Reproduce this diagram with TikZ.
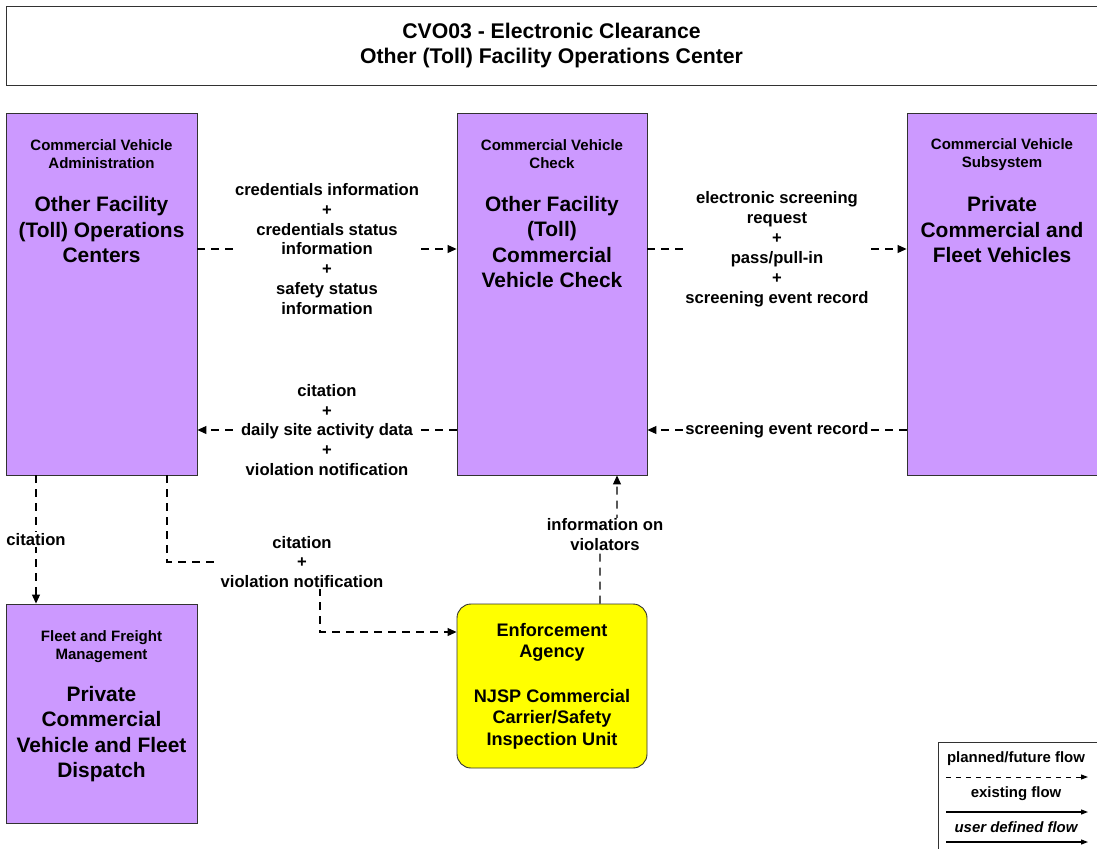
\documentclass[tikz,border=0pt]{standalone}
\usepackage{fontspec}
\setmainfont{Liberation Sans}
\usetikzlibrary{arrows.meta,calc}
\definecolor{boxpurple}{RGB}{204,153,255}
\definecolor{boxyellow}{RGB}{255,255,0}
\definecolor{edgegray}{RGB}{50,50,50}
\begin{document}
\begin{tikzpicture}[x=1bp,y=-1bp,
  box/.style={draw=edgegray,line width=0.9bp,fill=boxpurple,inner sep=0pt,minimum width=191bp},
  ybox/.style={draw=edgegray,line width=0.9bp,fill=boxyellow,inner sep=0pt,minimum width=190bp,minimum height=164bp,rounded corners=14bp},
  hdr/.style={align=center,inner sep=0pt,font=\fontsize{15.1}{18}\selectfont\bfseries},
  body/.style={align=center,inner sep=0pt,font=\fontsize{21}{25.5}\selectfont\bfseries},
  ytxt/.style={align=center,inner sep=0pt,font=\fontsize{18.2}{21.5}\selectfont\bfseries},
  lab/.style={align=center,fill=white,inner xsep=2bp,inner ysep=1bp,font=\fontsize{16.7}{20}\selectfont\bfseries},
  flow/.style={draw=black,line width=1.1bp,dash pattern=on 8bp off 6bp,-{Triangle[length=9bp,width=8bp]}},
  solidflow/.style={draw=black,line width=1.1bp,-{Triangle[length=7bp,width=5bp]}},
  legtxt/.style={inner sep=0pt,font=\fontsize{15}{17}\selectfont\bfseries}
]
\useasboundingbox (0,0) rectangle (1097,849);
\fill[white] (0,0) rectangle (1097,849);

% title
\node[draw=edgegray,line width=0.9bp,minimum width=1091bp,minimum height=79bp,inner sep=0pt,
      align=center,font=\fontsize{21.3}{26}\selectfont\bfseries] (title) at (551.5,45.5)
  {CVO03 - Electronic Clearance\\Other (Toll) Facility Operations Center};

% boxes
\node[box,minimum height=362bp] (cva) at (101.5,294) {};
\node[box,minimum width=190bp,minimum height=362bp] (chk) at (552,294) {};
\node[box,minimum width=190bp,minimum height=362bp] (veh) at (1002,294) {};
\node[box,minimum height=219bp] (fleet) at (101.5,713.5) {};
\node[ybox] (enf) at (552,686) {};

\node[hdr] (cvah) at ($(cva.north)+(0,42)$) {Commercial Vehicle\\Administration};
\node[body] (cvab) at ($(cva.north)+(0,117)$) {Other Facility\\(Toll) Operations\\Centers};
\node[hdr] (chkh) at ($(chk.north)+(0,42)$) {Commercial Vehicle\\Check};
\node[body] (chkb) at ($(chk.north)+(0,129.5)$) {Other Facility\\(Toll)\\Commercial\\Vehicle Check};
\node[hdr] (vehh) at ($(veh.north)+(0,42)$) {Commercial Vehicle\\Subsystem};
\node[body] (vehb) at ($(veh.north)+(0,117)$) {Private\\Commercial and\\Fleet Vehicles};
\node[hdr] (fleeth) at ($(fleet.north)+(0,43)$) {Fleet and Freight\\Management};
\node[body] (fleetb) at ($(fleet.north)+(0,130.5)$) {Private\\Commercial\\Vehicle and Fleet\\Dispatch};
\node[ytxt] (enfa) at ($(enf.north)+(0,39)$) {Enforcement\\Agency};
\node[ytxt] (enfb) at ($(enf.north)+(0,115.5)$) {NJSP Commercial\\Carrier/Safety\\Inspection Unit};

% flows
\draw[flow] ([yshift=45bp]cva.east) -- node[lab] (l1)
  {credentials information\\+\\credentials status\\information\\+\\safety status\\information} ([yshift=45bp]chk.west);
\draw[flow] ([yshift=45bp]chk.east) -- node[lab] (l2)
  {electronic screening\\request\\+\\pass/pull-in\\+\\screening event record} ([yshift=45bp]veh.west);
\draw[flow] ([yshift=-136bp]veh.west) -- node[lab] (l3) {screening event record} ([yshift=-136bp]chk.east);
\draw[flow] ([yshift=-136bp]chk.west) -- node[lab] (l4)
  {citation\\+\\daily site activity data\\+\\violation notification} ([yshift=-136bp]cva.east);
\draw[flow] ([xshift=-65.5bp]cva.south) -- node[lab] (l5) {citation} ([xshift=-65.5bp]fleet.north);

\coordinate (m6) at (320,562);
\coordinate (e6) at ([yshift=54bp]enf.west);
\draw[flow] ([xshift=65.5bp]cva.south) |- (m6) -- (m6 |- e6) -- (e6);
\node[lab] (l6) at (302,562) {citation\\+\\violation notification};

\coordinate (m7a) at (600,535);
\coordinate (m7b) at (617,535);
\draw[flow] ([xshift=48bp]enf.north) -- (m7a) -- (m7b) -- ([xshift=65bp]chk.south);
\node[lab] (l7) at (605,535) {information on\\violators};

% legend
\draw[edgegray,line width=0.9bp] (938,851) |- (1100,742);
\node[legtxt] (lg1) at (1016,759) {planned/future flow};
\coordinate (lg1a) at (946,777);
\coordinate (lg1b) at (1088,777);
\draw[draw=black,line width=1bp,dash pattern=on 5bp off 5bp,-{Triangle[length=7bp,width=5bp]}] (lg1a) -- (lg1b);
\node[legtxt] (lg2) at (1016,794) {existing flow};
\coordinate (lg2a) at (946,812);
\coordinate (lg2b) at (1088,812);
\draw[solidflow] (lg2a) -- (lg2b);
\node[legtxt,font=\fontsize{15}{17}\selectfont\bfseries\itshape] (lg3) at (1016,827) {user defined flow};
\coordinate (lg3a) at (946,842);
\coordinate (lg3b) at (1088,842);
\draw[solidflow] (lg3a) -- (lg3b);
\end{tikzpicture}
\end{document}
